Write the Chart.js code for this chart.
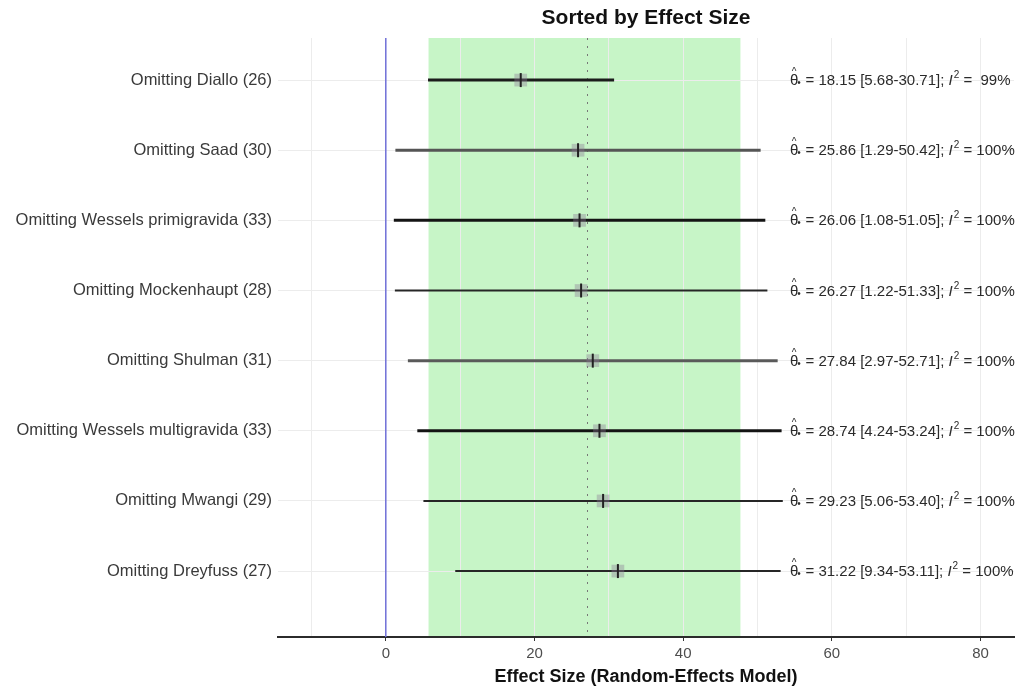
<!DOCTYPE html>
<html>
<head>
<meta charset="utf-8">
<script src="https://cdn.jsdelivr.net/npm/chart.js@4.4.1/dist/chart.umd.min.js"></script>
<style>
  html, body { margin: 0; padding: 0; background: #ffffff; }
  #wrap { width: 1023px; height: 691px; }
</style>
</head>
<body>
<div id="wrap"><canvas id="c" width="1023" height="691"></canvas></div>
<script>
// Leave-one-out sensitivity analysis, sorted by pooled effect size
const studies = [
  'Omitting Diallo (26)',
  'Omitting Saad (30)',
  'Omitting Wessels primigravida (33)',
  'Omitting Mockenhaupt (28)',
  'Omitting Shulman (31)',
  'Omitting Wessels multigravida (33)',
  'Omitting Mwangi (29)',
  'Omitting Dreyfuss (27)'
];
const estimates = [18.15, 25.86, 26.06, 26.27, 27.84, 28.74, 29.23, 31.22];
const lowerCI   = [5.68, 1.29, 1.08, 1.22, 2.97, 4.24, 5.06, 9.34];
const upperCI   = [30.71, 50.42, 51.05, 51.33, 52.71, 53.24, 53.40, 53.11];
const i2Values  = [99, 100, 100, 100, 100, 100, 100, 100];

// Overall random-effects estimate and its interval (shaded band)
const pooledEstimate = 27.0;
const pooledLower = 5.75;
const pooledUpper = 47.7;

const xTickLabels = [0, 20, 40, 60, 80];

// Line styling of each interval
const barColors = ['#1c1c1c', '#555555', '#141414', '#262626', '#5a5a5a', '#141414', '#262626', '#262626'];
const barWidths = [3, 3, 3, 2, 3, 3, 2, 2];

const FONT = '"Liberation Sans", Arial, Helvetica, sans-serif';
const rowPos = studies.map((_, i) => i + 1);

const datasets = [];
studies.forEach((s, i) => {
  datasets.push({
    type: 'line',
    label: s,
    data: [{ x: lowerCI[i], y: rowPos[i] }, { x: upperCI[i], y: rowPos[i] }],
    borderColor: barColors[i],
    borderWidth: barWidths[i],
    pointRadius: 0,
    showLine: true,
    order: 3
  });
});
datasets.push({
  type: 'scatter',
  label: 'estimate box',
  data: estimates.map((v, i) => ({ x: v, y: rowPos[i] })),
  pointStyle: 'rect',
  pointRadius: 9,
  backgroundColor: 'rgba(140,120,150,0.38)',
  borderColor: 'rgba(0,0,0,0)',
  borderWidth: 0,
  order: 2
});
datasets.push({
  type: 'scatter',
  label: 'estimate tick',
  data: estimates.map((v, i) => ({ x: v, y: rowPos[i] })),
  pointStyle: 'line',
  rotation: 90,
  pointRadius: 7,
  borderColor: '#222222',
  borderWidth: 2,
  order: 1
});

const decorations = {
  id: 'decorations',
  beforeDraw(chart) {
    const { ctx, chartArea: a, scales: { x } } = chart;
    ctx.save();
    const l = x.getPixelForValue(pooledLower);
    const r = x.getPixelForValue(pooledUpper);
    ctx.fillStyle = '#c7f5c7';
    ctx.fillRect(l, a.top, r - l, a.bottom - a.top);
    ctx.restore();
  },
  beforeDatasetsDraw(chart) {
    const { ctx, chartArea: a, scales: { x } } = chart;
    ctx.save();
    // pooled estimate reference
    const px = Math.round(x.getPixelForValue(pooledEstimate)) + 0.5;
    ctx.strokeStyle = '#777777';
    ctx.lineWidth = 1;
    ctx.setLineDash([2, 6]);
    ctx.beginPath(); ctx.moveTo(px, a.top); ctx.lineTo(px, a.bottom); ctx.stroke();
    ctx.setLineDash([]);
    // null effect line
    const zx = x.getPixelForValue(0);
    ctx.strokeStyle = '#7070d8';
    ctx.lineWidth = 1.5;
    ctx.beginPath(); ctx.moveTo(zx, a.top); ctx.lineTo(zx, a.bottom); ctx.stroke();
    ctx.restore();
  },
  afterDraw(chart) {
    const { ctx, chartArea: a, scales: { y } } = chart;
    ctx.save();
    // title
    ctx.fillStyle = '#111111';
    ctx.font = 'bold 21px ' + FONT;
    ctx.textAlign = 'center';
    ctx.textBaseline = 'middle';
    ctx.fillText('Sorted by Effect Size', (a.left + a.right) / 2, 18);

    // per-row summary text
    const x0 = 790;
    const fs = 15;
    ctx.textAlign = 'left';
    ctx.textBaseline = 'alphabetic';
    studies.forEach((s, i) => {
      const yb = y.getPixelForValue(rowPos[i]) + 5;
      let cx = x0;
      ctx.fillStyle = '#2a2a2a';
      ctx.font = fs + 'px ' + FONT;
      ctx.fillText('θ', cx, yb);
      const tw = ctx.measureText('θ').width;
      ctx.font = '10px ' + FONT;
      ctx.fillText('^', cx + tw / 2 - 2.5, yb - 10);
      ctx.fillText('•', cx + tw - 1, yb + 1);
      cx += tw + 3;
      ctx.font = fs + 'px ' + FONT;
      const main = ' = ' + estimates[i].toFixed(2) + ' [' + lowerCI[i].toFixed(2) + '-' + upperCI[i].toFixed(2) + ']; ';
      ctx.fillText(main, cx, yb);
      cx += ctx.measureText(main).width;
      ctx.font = 'italic ' + fs + 'px ' + FONT;
      ctx.fillText('I', cx, yb);
      cx += ctx.measureText('I').width + 1;
      ctx.font = '10px ' + FONT;
      ctx.fillText('2', cx, yb - 7);
      cx += ctx.measureText('2').width;
      ctx.font = fs + 'px ' + FONT;
      const pct = ' = ' + String(i2Values[i]).padStart(3, ' ') + '%';
      ctx.fillText(pct, cx, yb);
    });
    ctx.restore();
  }
};

new Chart(document.getElementById('c'), {
  data: { datasets },
  options: {
    responsive: false,
    animation: false,
    layout: { padding: { top: 38, right: 6, left: 0, bottom: 0 } },
    plugins: {
      legend: { display: false },
      tooltip: { enabled: false },
      title: { display: false }
    },
    scales: {
      x: {
        type: 'linear',
        min: -14.5,
        max: 84.5,
        afterBuildTicks(axis) {
          const t = [];
          for (let v = -10; v <= 80; v += 10) t.push({ value: v });
          axis.ticks = t;
        },
        afterFit(axis) { axis.height = 54; },
        ticks: {
          autoSkip: false,
          maxRotation: 0,
          padding: 4,
          color: '#4d4d4d',
          font: { family: FONT, size: 15 },
          callback: (v) => (xTickLabels.includes(v) ? String(v) : '')
        },
        grid: {
          color: '#ececec',
          lineWidth: 1,
          tickLength: 4,
          tickColor: (c) => (c.tick && xTickLabels.includes(c.tick.value) ? '#333333' : 'rgba(0,0,0,0)')
        },
        border: { display: true, color: '#2b2b2b', width: 2 },
        title: {
          display: true,
          text: 'Effect Size (Random-Effects Model)',
          color: '#111111',
          font: { family: FONT, size: 18, weight: 'bold' },
          padding: { top: 0, bottom: 3 }
        }
      },
      y: {
        type: 'linear',
        reverse: true,
        min: 0.4,
        max: 8.94,
        afterBuildTicks(axis) { axis.ticks = rowPos.map(v => ({ value: v })); },
        afterFit(axis) { axis.width = 278; },
        ticks: {
          autoSkip: false,
          padding: 6,
          color: '#3a3a3a',
          font: { family: FONT, size: 16.5 },
          callback: (v) => studies[v - 1] || ''
        },
        grid: { color: '#ececec', lineWidth: 1, drawTicks: false },
        border: { display: false }
      }
    }
  },
  plugins: [decorations]
});
</script>
</body>
</html>
